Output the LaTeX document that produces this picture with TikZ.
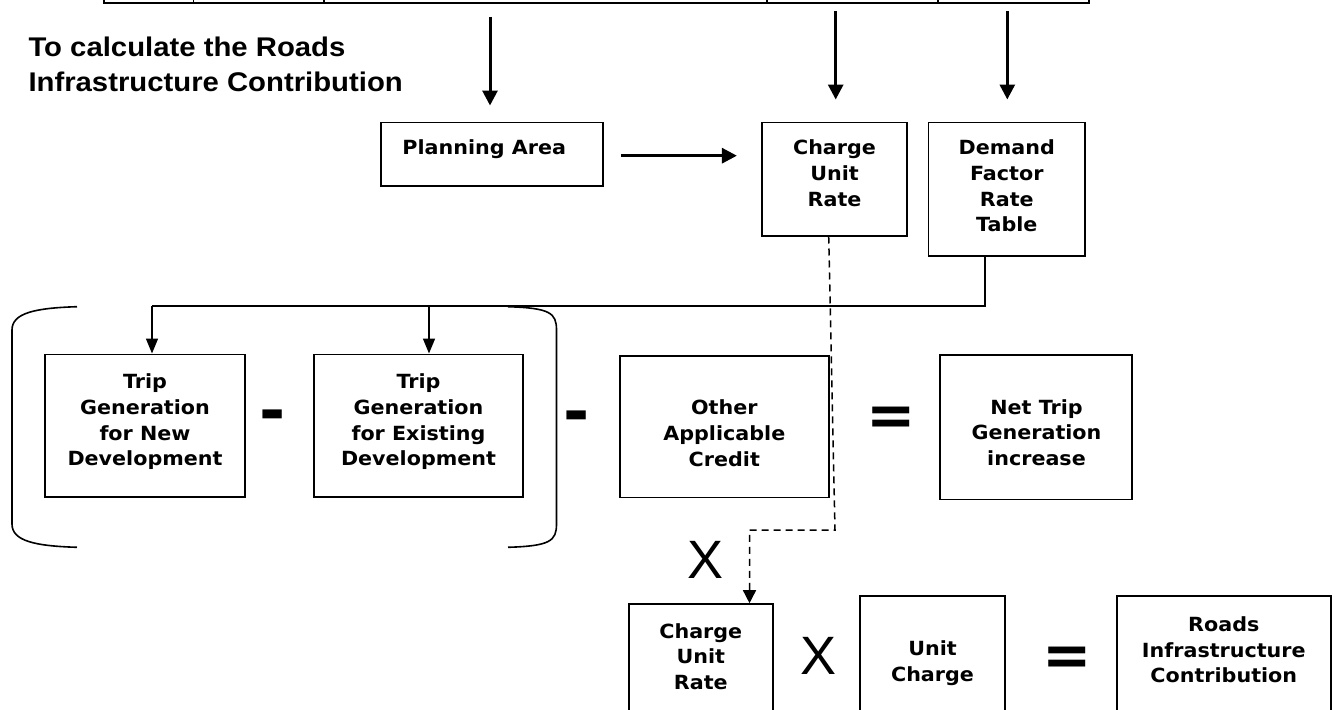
\documentclass[tikz,border=0pt]{standalone}
\usepackage{fontspec}
\usetikzlibrary{arrows.meta}
\newfontfamily\boxfont{DejaVu Sans}[FakeStretch=1.06]
\newfontfamily\symfont{DejaVu Sans}
\newfontfamily\titlefont{Liberation Sans}[FakeStretch=1.085]
\newfontfamily\xfont{Liberation Sans}
\tikzset{
  box/.style={draw, line width=1.6pt, rectangle, inner sep=0pt},
  btxt/.style={font=\boxfont\bfseries\fontsize{19.5}{25.8}\selectfont, align=center, anchor=north, inner sep=0pt},
  titletxt/.style={font=\titlefont\bfseries\fontsize{27}{34.7}\selectfont, align=left, anchor=north west, inner sep=0pt},
  minus/.style={font=\symfont\bfseries\fontsize{63}{63}\selectfont, inner sep=0pt},
  equal/.style={font=\symfont\bfseries\fontsize{59}{59}\selectfont, inner sep=0pt},
  times/.style={font=\xfont\fontsize{54}{54}\selectfont, inner sep=0pt},
  toparrow/.style={line width=3pt, -{Triangle[width=15pt,length=15pt]}},
  conn/.style={line width=1.6pt},
  connarrow/.style={line width=1.6pt, -{Triangle[width=12pt,length=15pt]}},
  dashline/.style={line width=1.5pt, dash pattern=on 7pt off 5pt, -{Triangle[width=13pt,length=13pt]}},
  brk/.style={line width=1.6pt},
  tableline/.style={line width=2pt},
  tablediv/.style={line width=1.3pt}
}
\begin{document}
\begin{tikzpicture}[x=1pt, y=-1pt]
\useasboundingbox (0,0) rectangle (1337,709);
\clip (0,0) rectangle (1337,709);

% cut-off table at the top
\draw[tableline] (104,2.7) -- (1089,2.7);
\foreach \xx in {104,193.5,324,767,938,1089} { \draw[tablediv] (\xx,0) -- (\xx,3.6); }

% title
\node[titletxt] (title) at (28.3,36.7) {To calculate the Roads\\Infrastructure Contribution};

% boxes
\node[box, minimum width=222pt, minimum height=63.7pt] (pa) at (491.7,154.15) {};
\node[box, minimum width=145pt, minimum height=113.4pt] (cr1) at (834.5,179) {};
\node[box, minimum width=156.5pt, minimum height=133.7pt] (df) at (1006.75,189.15) {};
\node[box, minimum width=200pt, minimum height=142.4pt] (tg1) at (145,425.5) {};
\node[box, minimum width=209pt, minimum height=142.4pt] (tg2) at (418.5,425.5) {};
\node[box, minimum width=208.7pt, minimum height=141.6pt] (oc) at (724.35,426.5) {};
\node[box, minimum width=192pt, minimum height=144.3pt] (nt) at (1036,427.15) {};
\node[box, minimum width=143.7pt, minimum height=156pt] (cr2) at (700.85,682) {};
\node[box, minimum width=145pt, minimum height=164.3pt] (uc) at (932.5,677.85) {};
\node[box, minimum width=214.3pt, minimum height=164.3pt] (ri) at (1223.85,677.85) {};

% box texts
\node[btxt] (pat) at (484.2,139) {Planning Area};
\node[btxt] (cr1t) at (834.5,139.5) {Charge\\Unit\\Rate};
\node[btxt] (dft) at (1006.75,139.5) {Demand\\Factor\\Rate\\Table};
\node[btxt] (tg1t) at (145,373.5) {Trip\\Generation\\for New\\Development};
\node[btxt] (tg2t) at (418.5,373.5) {Trip\\Generation\\for Existing\\Development};
\node[btxt] (oct) at (724.3,399.5) {Other\\Applicable\\Credit};
\node[btxt] (ntt) at (1036.5,399) {Net Trip\\Generation\\increase};
\node[btxt] (cr2t) at (700.8,623) {Charge\\Unit\\Rate};
\node[btxt] (uct) at (932.5,640.5) {Unit\\Charge};
\node[btxt] (rit) at (1223.8,616.2) {Roads\\Infrastructure\\Contribution};

% operators
\node[minus] (m1) at (273,421.3) {-};
\node[minus] (m2) at (577,422) {-};
\node[equal] (eq1) at (891.7,421) {=};
\node[equal] (eq2) at (1067.3,661.5) {=};
\node[times] (x1) at (705.3,559.7) {X};
\node[times] (x2) at (818.3,656.3) {X};

% brackets
\draw[brk] (77,306.7) .. controls (35,308) and (12,313) .. (12,330) -- (12,524) .. controls (12,541) and (35,546) .. (77,547.3);
\draw[brk] (508,306.7) .. controls (550,308) and (556.5,313) .. (556.5,330) -- (556.5,524) .. controls (556.5,541) and (550,546) .. (508,547.3);

% top arrows
\coordinate (a1s) at (490,17);
\coordinate (a2s) at (835.7,11);
\coordinate (a3s) at (1007.3,11);
\draw[toparrow, shorten >=16pt] (a1s) -- (a1s |- pa.north);
\draw[toparrow, shorten >=22pt] (a2s) -- (a2s |- cr1.north);
\draw[toparrow, shorten >=22pt] (a3s) -- (a3s |- df.north);
\coordinate (hy) at (0,155.7);
\draw[toparrow, shorten <=17.3pt, shorten >=24.3pt] (pa.east |- hy) -- (cr1.west |- hy);

% demand connector
\coordinate (dfo) at (985,0);
\coordinate (jl) at (152,306);
\coordinate (jr) at (429,306);
\draw[conn] (dfo |- df.south) |- (jl);
\draw[connarrow] (jl) -- (jl |- tg1.north);
\draw[connarrow] (jr) -- (jr |- tg2.north);

% dashed connector
\coordinate (d1) at (828.7,0);
\coordinate (d2) at (835,530);
\coordinate (d3) at (749.5,530);
\draw[dashline] (d1 |- cr1.south) -- (d2) -- (d3) -- (d3 |- cr2.north);
\end{tikzpicture}
\end{document}
